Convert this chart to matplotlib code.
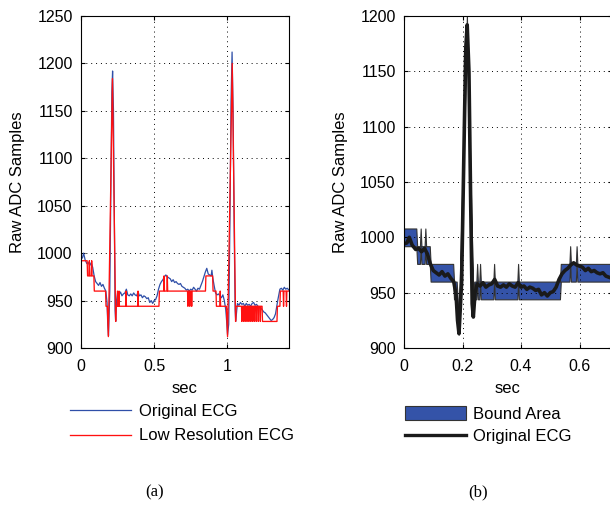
import numpy as np
import matplotlib
matplotlib.use("Agg")
import matplotlib.pyplot as plt
from matplotlib.patches import Patch
from matplotlib.lines import Line2D

plt.rcParams["font.family"] = ["Liberation Sans", "DejaVu Sans"]

# original ECG, sec / raw ADC
ecg_t = [0.000, 0.010, 0.018, 0.028, 0.040, 0.050, 0.060, 0.070, 0.080, 0.090,
         0.100, 0.110, 0.120, 0.130, 0.140, 0.150, 0.160, 0.170, 0.178, 0.183,
         0.188, 0.197, 0.205, 0.211, 0.216, 0.222, 0.228, 0.233, 0.237, 0.243,
         0.250, 0.260, 0.270, 0.280, 0.290, 0.300, 0.310, 0.320, 0.330, 0.340,
         0.350, 0.360, 0.370, 0.380, 0.390, 0.400, 0.410, 0.420, 0.430, 0.440,
         0.450, 0.460, 0.470, 0.480, 0.490, 0.500, 0.510, 0.520, 0.530, 0.540,
         0.550, 0.560, 0.570, 0.580, 0.590, 0.600, 0.610, 0.620, 0.630, 0.640,
         0.650, 0.660, 0.670, 0.680, 0.690, 0.700, 0.710, 0.720, 0.730, 0.740,
         0.750, 0.760, 0.770, 0.780, 0.790, 0.800, 0.810, 0.820, 0.830, 0.840,
         0.850, 0.860, 0.870, 0.880, 0.890, 0.895, 0.900, 0.910, 0.920, 0.930,
         0.940, 0.950, 0.960, 0.970, 0.980, 0.990, 0.995, 1.002, 1.010, 1.018,
         1.026, 1.033, 1.040, 1.047, 1.054, 1.058, 1.065, 1.070, 1.080, 1.090,
         1.100, 1.110, 1.120, 1.130, 1.140, 1.150, 1.160, 1.170, 1.180, 1.190,
         1.200, 1.210, 1.220, 1.230, 1.240, 1.250, 1.260, 1.270, 1.280, 1.290,
         1.300, 1.310, 1.320, 1.330, 1.345, 1.360, 1.370, 1.380, 1.390, 1.400,
         1.410, 1.422]
ecg_v = [994, 995, 1000, 993, 989, 990, 987, 990, 985, 976,
         970, 968, 966, 969, 965, 967, 963, 960, 948, 925,
         913, 960, 1080, 1170, 1192, 1150, 1030, 940, 928, 950,
         958, 956, 959, 955, 957, 958, 962, 956, 955, 957,
         955, 958, 956, 955, 959, 955, 956, 953, 955, 954,
         952, 953, 948, 950, 947, 950, 951, 955, 962, 967,
         970, 972, 975, 977, 975, 974, 973, 970, 972, 969,
         970, 968, 967, 968, 965, 964, 963, 961, 962, 960,
         962, 961, 964, 962, 960, 963, 962, 966, 970, 975,
         980, 984, 978, 977, 976, 982, 975, 966, 958, 956,
         957, 955, 953, 956, 950, 940, 930, 914, 925, 1030,
         1160, 1212, 1150, 1030, 940, 928, 940, 947, 945, 948,
         946, 947, 944, 947, 945, 946, 944, 947, 948, 945,
         946, 944, 943, 942, 940, 938, 937, 935, 933, 931,
         929, 930, 932, 936, 950, 962, 963, 961, 964, 962,
         963, 961]

# low resolution ECG: levels with step corners, plus single-sample flickers
lowres_t = [0.000, 0.042, 0.045, 0.088, 0.091, 0.168, 0.171, 0.180, 0.187, 0.215,
            0.237, 0.240, 0.533, 0.536, 0.851, 0.854, 0.900, 0.903, 0.923, 0.926,
            0.994, 1.002, 1.034, 1.057, 1.060, 1.238, 1.241, 1.340, 1.343, 1.360,
            1.363, 1.422]
lowres_v = [992, 992, 976, 976, 960, 960, 944, 944, 912, 1184,
            928, 944, 944, 960, 960, 976, 976, 960, 960, 944,
            944, 912, 1200, 928, 944, 944, 928, 928, 944, 944,
            960, 960]
flick_t = [0.057, 0.073, 0.250, 0.260, 0.308, 0.390, 0.568, 0.590, 0.731, 0.744,
           0.757, 0.952, 1.100, 1.114, 1.128, 1.142, 1.156, 1.170, 1.184, 1.198,
           1.212, 1.226, 1.385, 1.405]
flick_v = [992, 992, 960, 960, 960, 960, 976, 976, 944, 944,
           944, 960, 928, 928, 928, 928, 928, 928, 928, 928,
           928, 928, 944, 944]
Q_STEP = 16
T_END_B = 0.711


def add_flickers(t, v, ft, fv, w=0.0026):
    t, v, ft, fv = map(np.asarray, (t, v, ft, fv))
    base = np.interp(ft, t, v)
    tt = np.concatenate([t, ft - w, ft, ft + w]); vv = np.concatenate([v, base, fv, base])
    o = np.argsort(tt, kind="stable")
    return tt[o], vv[o]


lr_t, lr_v = add_flickers(lowres_t, lowres_v, flick_t, flick_v)

fig = plt.figure(figsize=(6.1, 5.16), dpi=100)
W, H = 610.0, 516.0


def style(ax):
    ax.tick_params(direction="in", top=True, right=True, length=3, labelsize=11.5)
    ax.tick_params(axis="x", pad=8); ax.tick_params(axis="y", pad=6)
    ax.grid(True, color="black", linestyle=(0, (1, 4)), linewidth=0.7)
    ax.set_xlabel("sec", fontsize=12)
    ax.set_ylabel("Raw ADC Samples", fontsize=12)
    ax.yaxis.set_label_coords(-56 / 208, 0.5)
    ax.xaxis.set_label_coords(0.5, -33 / 332)
    for s in ax.spines.values():
        s.set_linewidth(0.8)


# (a)
ax1 = fig.add_axes([81 / W, 1 - 348 / H, 208 / W, 332 / H])
l1, = ax1.plot(ecg_t, ecg_v, color="#2f4fa8", lw=0.9)
l2, = ax1.plot(lr_t, lr_v, color="#ff1010", lw=0.95)
ax1.set_xlim(0, 1.4222); ax1.set_ylim(900, 1250)
ax1.set_xticks([0, 0.5, 1]); ax1.set_xticklabels(["0", "0.5", "1"])
ax1.set_yticks(np.arange(900, 1251, 50))
style(ax1)
ax1.legend([l1, l2], ["Original ECG", "Low Resolution ECG"], loc="upper left",
           bbox_to_anchor=(70 / W, 1 - 404 / H), bbox_transform=fig.transFigure,
           frameon=False, fontsize=12, handlelength=3.65, handletextpad=0.48,
           labelspacing=0.57, borderpad=0, borderaxespad=0)

# (b)
ax2 = fig.add_axes([404 / W, 1 - 348 / H, 208 / W, 332 / H])
m = lr_t < T_END_B
bt = np.append(lr_t[m], T_END_B)
bv = np.append(lr_v[m], np.interp(T_END_B, lr_t, lr_v))
ax2.fill_between(bt, bv, bv + Q_STEP, facecolor="#3453a8", edgecolor="#333333", lw=0.8)
ax2.plot(ecg_t, ecg_v, color="#1a1a1a", lw=2.6, solid_joinstyle="round")
ax2.set_xlim(0, T_END_B); ax2.set_ylim(900, 1200)
ax2.set_xticks([0, 0.2, 0.4, 0.6]); ax2.set_xticklabels(["0", "0.2", "0.4", "0.6"])
ax2.set_yticks(np.arange(900, 1201, 50))
style(ax2)
ax2.legend([Patch(facecolor="#3453a8", edgecolor="#333333", lw=0.8),
            Line2D([], [], color="#1a1a1a", lw=2.4)], ["Bound Area", "Original ECG"],
           loc="upper left", bbox_to_anchor=(405 / W, 1 - 406 / H), bbox_transform=fig.transFigure,
           frameon=False, fontsize=12, handlelength=3.65, handleheight=0.96, handletextpad=0.42,
           labelspacing=0.38, borderpad=0, borderaxespad=0)

fig.text(155 / W, 1 - 492 / H, "(a)", family="Liberation Serif", fontsize=12, ha="center", va="center")
fig.text(478 / W, 1 - 492 / H, "(b)", family="Liberation Serif", fontsize=12, ha="center", va="center")

fig.savefig("out.png", dpi=100)
